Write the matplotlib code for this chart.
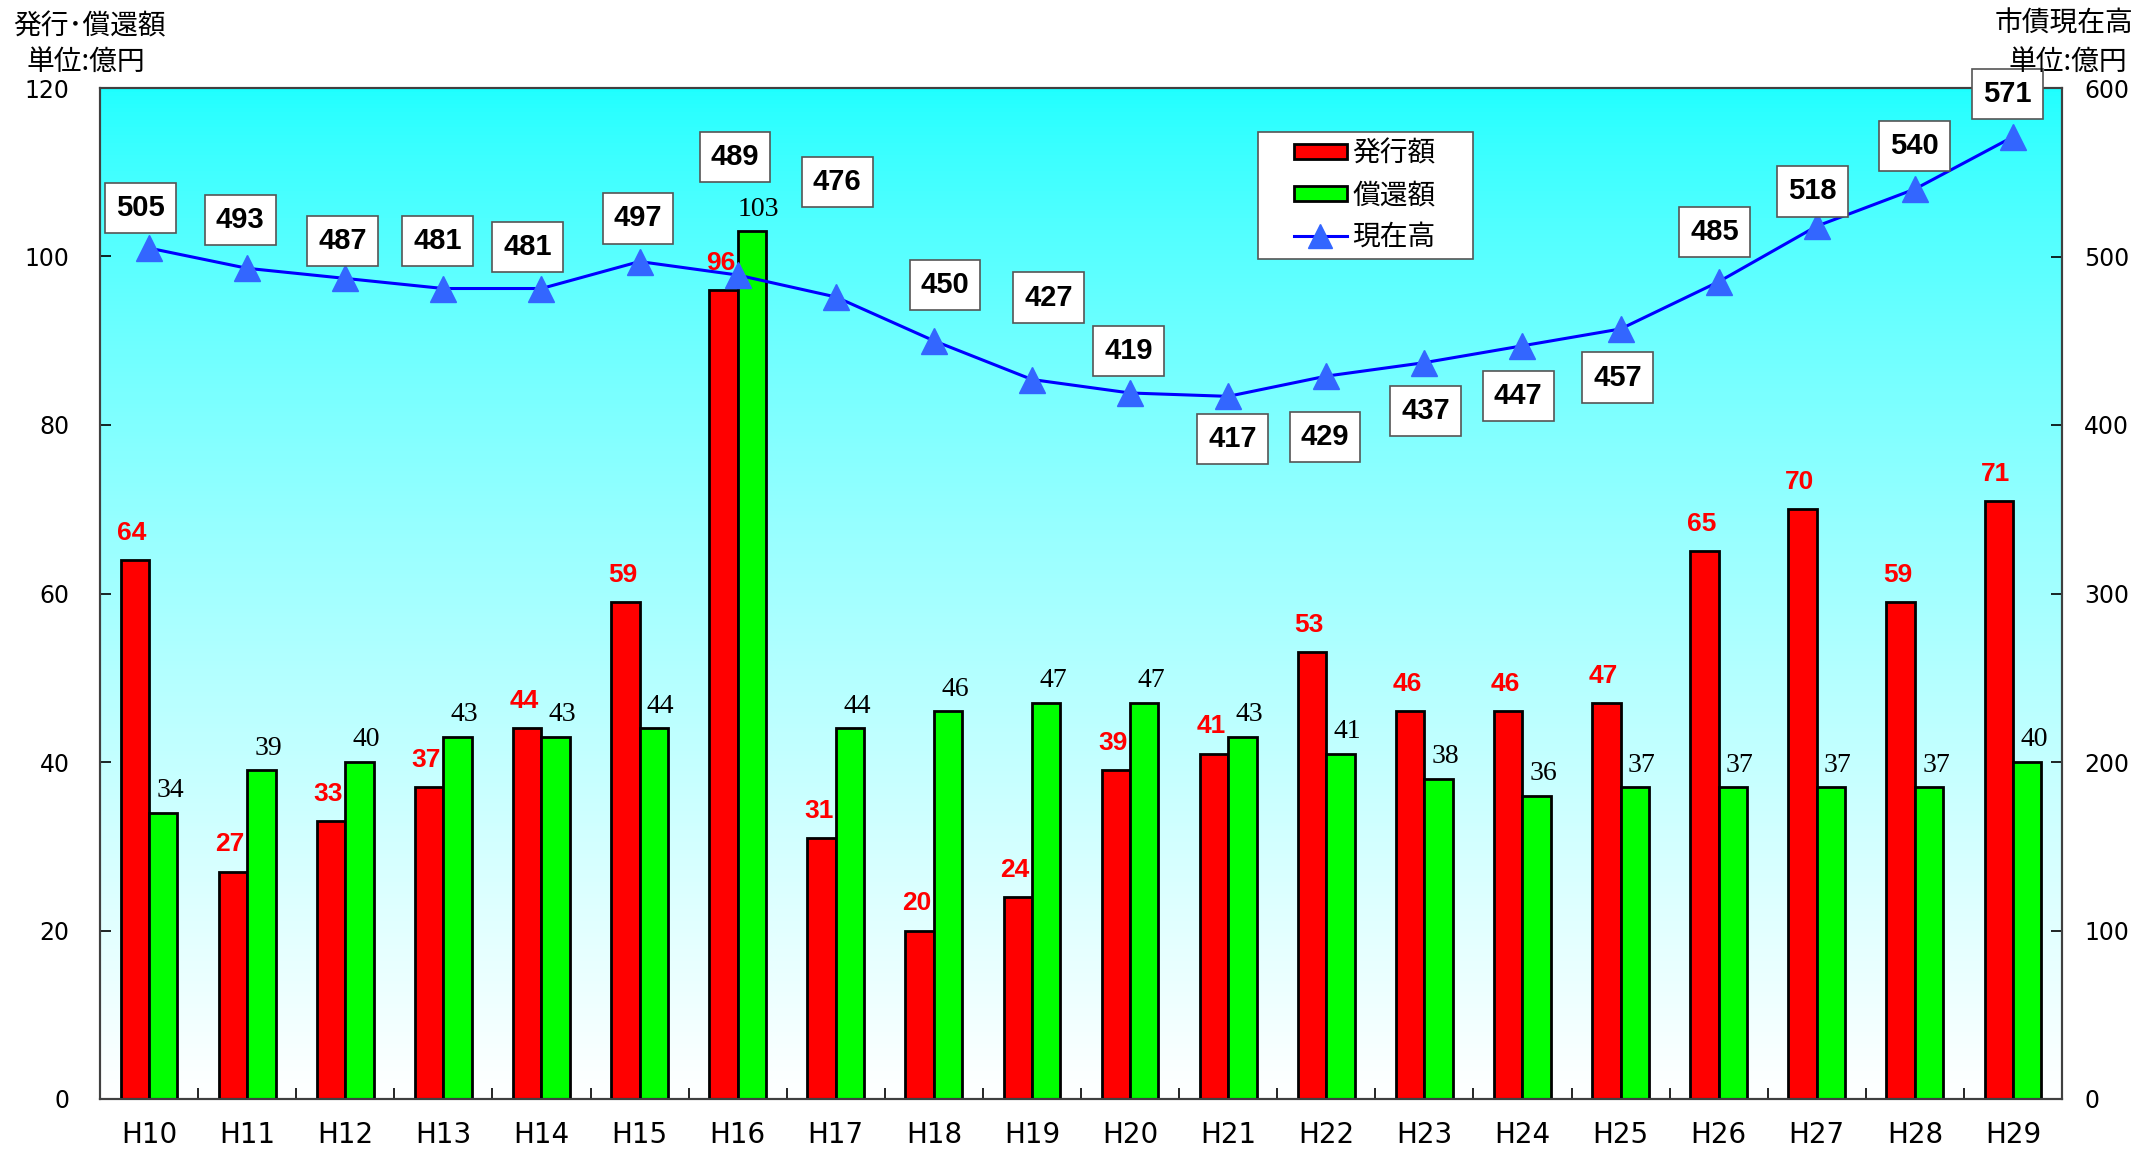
import numpy as np
import matplotlib.pyplot as plt
from matplotlib.lines import Line2D
from matplotlib.patches import Patch, Rectangle

years = ['H10', 'H11', 'H12', 'H13', 'H14', 'H15', 'H16', 'H17', 'H18', 'H19',
         'H20', 'H21', 'H22', 'H23', 'H24', 'H25', 'H26', 'H27', 'H28', 'H29']
issue = [64, 27, 33, 37, 44, 59, 96, 31, 20, 24, 39, 41, 53, 46, 46, 47, 65, 70, 59, 71]
redeem = [34, 39, 40, 43, 43, 44, 103, 44, 46, 47, 47, 43, 41, 38, 36, 37, 37, 37, 37, 40]
balance = [505, 493, 487, 481, 481, 497, 489, 476, 450, 427, 419, 417, 429, 437, 447, 457,
           485, 518, 540, 571]

# where each balance box sits relative to its marker (points)
box_offsets = [(-6, 29), (-5, 35), (-2, 27), (-4, 34), (-10, 30), (-1, 31), (-2, 85),
               (1, 83), (8, 40), (12, 59), (-1, 30), (3, -31), (-1, -44), (1, -35),
               (-3, -36), (-2, -35), (-3, 36), (-3, 25), (0, 31), (-4, 31)]

jp = ['Noto Sans CJK JP', 'DejaVu Sans']
bold_sans = 'Liberation Sans'

fig = plt.figure(figsize=(21.39, 11.52), dpi=100)
ax = fig.add_axes([100 / 2139, 1 - 1099 / 1152, 1962 / 2139, 1011 / 1152])
ax2 = ax.twinx()

# background gradient: cyan at top, white at bottom
t = np.linspace(0, 1, 256) ** 0.75
grad = np.zeros((256, 1, 3))
grad[:, 0, 0] = 0.12 + 0.88 * t
grad[:, 0, 1] = 1.0
grad[:, 0, 2] = 1.0
ax.imshow(grad, aspect='auto', extent=[0, 1, 0, 1], transform=ax.transAxes, zorder=0)

x = np.arange(len(years))
w = 0.29
ax.bar(x - w / 2, issue, w, color='#FF0000', edgecolor='black', linewidth=2, zorder=2)
ax.bar(x + w / 2, redeem, w, color='#00FF00', edgecolor='black', linewidth=2, zorder=2)

for xi, v in zip(x, issue):
    ax.annotate(str(v), (xi - w / 2, v), xytext=(-2, 11), textcoords='offset points',
                ha='center', va='bottom', color='#FF0000', fontsize=19, fontweight='bold',
                family=bold_sans, zorder=3)
for xi, v in zip(x, redeem):
    ax.annotate(str(v), (xi + w / 2, v), xytext=(5, 7), textcoords='offset points',
                ha='center', va='bottom', color='black', fontsize=20,
                family='Liberation Serif', zorder=3)

ax.set_xlim(-0.5, len(years) - 0.5)
ax.set_ylim(0, 120)
ax.set_yticks(np.arange(0, 121, 20))
ax2.set_ylim(0, 600)
ax2.set_yticks(np.arange(0, 601, 100))

ax2.plot(x, balance, color='#0000FF', linewidth=2.2, marker='^', markersize=19,
         markerfacecolor='#3366FF', markeredgecolor='#3366FF', zorder=4)
for xi, v, off in zip(x, balance, box_offsets):
    ax2.annotate(str(v), (xi, v), xytext=off, textcoords='offset points',
                 ha='center', va='center', fontsize=21, fontweight='bold', family=bold_sans,
                 bbox=dict(boxstyle='square,pad=0.38', fc='white', ec='#555555', lw=1.2),
                 zorder=5)

ax.set_xticks(x)
ax.set_xticklabels(years, fontsize=20, family='DejaVu Sans')
ax.set_xticks(np.arange(-0.5, len(years), 1)[1:-1], minor=True)
ax.tick_params(axis='x', which='major', length=0, pad=16)
ax.tick_params(axis='x', which='minor', direction='in', length=8, width=1.2)
ax.tick_params(axis='y', direction='in', length=8, width=1.2, labelsize=17, pad=22)
ax2.tick_params(axis='y', direction='in', length=8, width=1.2, labelsize=17, pad=16)
for a in (ax, ax2):
    for s in a.spines.values():
        s.set_color('#404040')
        s.set_linewidth(1.5)
ax.spines['bottom'].set_color('black')

# legend box drawn separately so its padding can be wider than tall
ax2.add_patch(Rectangle((0.590, 0.831), 0.110, 0.1255, transform=ax2.transAxes,
                        facecolor='white', edgecolor='#555555', linewidth=1.2, zorder=5.5))
handles = [Patch(facecolor='#FF0000', edgecolor='black', linewidth=2),
           Patch(facecolor='#00FF00', edgecolor='black', linewidth=2),
           Line2D([], [], color='#0000FF', linewidth=2.2, marker='^', markersize=17,
                  markerfacecolor='#3366FF', markeredgecolor='#3366FF')]
leg = ax2.legend(handles, ['発行額', '償還額', '現在高'], loc='center left',
                 bbox_to_anchor=(0.6085, 0.894), borderaxespad=0, frameon=False,
                 prop={'family': jp, 'size': 20},
                 handlelength=1.9, handleheight=0.45, labelspacing=0.42,
                 handletextpad=0.2, borderpad=0)
leg.set_zorder(6)

fig.text(13 / 2139, 1 - 26 / 1152, '発行･償還額', fontsize=20, family=jp, va='center', ha='left')
fig.text(27 / 2139, 1 - 62 / 1152, '単位:億円', fontsize=20, family=jp, va='center', ha='left')
fig.text(2133 / 2139, 1 - 24 / 1152, '市債現在高', fontsize=20, family=jp, va='center', ha='right')
fig.text(2127 / 2139, 1 - 62 / 1152, '単位:億円', fontsize=20, family=jp, va='center', ha='right')

fig.savefig('out.png', dpi=100)
